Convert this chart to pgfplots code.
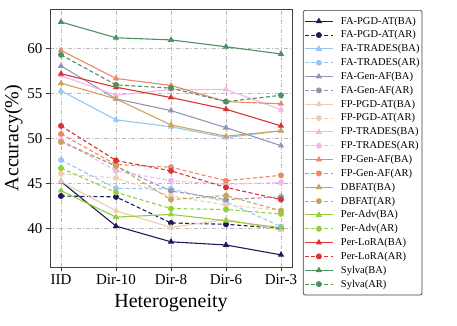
\documentclass[border=0pt]{standalone}
\usepackage{fontspec}
\setmainfont{Liberation Serif}
\usepackage{pgfplots}
\pgfplotsset{compat=1.18}
\definecolor{cnavy}{RGB}{28,28,92}
\definecolor{clblue}{RGB}{150,198,245}
\definecolor{cgrey}{RGB}{150,150,178}
\definecolor{cpeach}{RGB}{236,206,178}
\definecolor{cpink}{RGB}{245,182,232}
\definecolor{csalmon}{RGB}{238,135,105}
\definecolor{cgold}{RGB}{200,165,92}
\definecolor{cygreen}{RGB}{145,208,62}
\definecolor{cred}{RGB}{215,52,52}
\definecolor{cgreen}{RGB}{76,145,96}
\begin{document}
\begin{tikzpicture}
\begin{axis}[
  scale only axis, width=242pt, height=258pt,
  xmin=-0.2, xmax=4.2, ymin=35.7, ymax=64.4,
  xtick={0,1,2,3,4}, xticklabels={IID,Dir-10,Dir-8,Dir-6,Dir-3},
  ytick={40,45,50,55,60},
  tick align=outside, tick pos=left,
  major tick length=4pt,
  tick style={black!80, line width=0.8pt},
  axis line style={black!75, line width=0.9pt},
  grid=major,
  major grid style={gray!55, dash pattern=on 4pt off 2pt on 1pt off 2pt, line width=0.6pt},
  /pgf/number format/assume math mode=true,
  ticklabel style={font=\fontsize{15}{17}\selectfont},
  xlabel={Heterogeneity}, ylabel={Accuracy(\%)},
  label style={font=\fontsize{20}{22}\selectfont},
  xlabel style={yshift=-3pt},
  ylabel style={yshift=-2pt},
  every axis plot/.append style={line width=1.1pt},
  legend cell align=left,
  legend style={at={(1,1)}, anchor=north west, xshift=11pt, yshift=-1pt,
    font=\fontsize{10.5}{12}\selectfont, draw=black!75, line width=0.7pt,
    rounded corners=2pt, inner xsep=1pt, inner ysep=5pt, row sep=2.05pt,
    nodes={inner sep=1.5pt},
    /tikz/every odd column/.append style={column sep=6pt}},
  legend image code/.code={\draw[mark repeat=2,mark phase=2,#1] plot coordinates {(0pt,0pt) (14pt,0pt) (28pt,0pt)};},
  sol/.style={solid, mark=triangle*, mark size=2.6pt, mark options={solid}},
  das/.style={dash pattern=on 4pt off 2.5pt, mark=*, mark size=2.4pt, mark options={solid}},
]
\addplot[color=cnavy, sol] coordinates {(0,45.2) (1,40.25) (2,38.5) (3,38.15) (4,37.05)};
\addlegendentry{FA-PGD-AT(BA)}
\addplot[color=cnavy, das] coordinates {(0,43.6) (1,43.5) (2,40.6) (3,40.45) (4,40.0)};
\addlegendentry{FA-PGD-AT(AR)}
\addplot[color=clblue, sol] coordinates {(0,55.3) (1,52.07) (2,51.3) (3,50.1) (4,50.85)};
\addlegendentry{FA-TRADES(BA)}
\addplot[color=clblue, das] coordinates {(0,47.6) (1,44.45) (2,44.4) (3,42.95) (4,40.2)};
\addlegendentry{FA-TRADES(AR)}
\addplot[color=cgrey, sol] coordinates {(0,58.07) (1,54.4) (2,53.1) (3,51.2) (4,49.2)};
\addlegendentry{FA-Gen-AF(BA)}
\addplot[color=cgrey, das] coordinates {(0,49.7) (1,46.9) (2,44.15) (3,43.2) (4,43.5)};
\addlegendentry{FA-Gen-AF(AR)}
\addplot[color=cpeach, sol] coordinates {(0,45.2) (1,41.95) (2,40.1) (3,41.0) (4,39.8)};
\addlegendentry{FP-PGD-AT(BA)}
\addplot[color=cpeach, das] coordinates {(0,46.07) (1,45.6) (2,43.6) (3,42.6) (4,42.0)};
\addlegendentry{FP-PGD-AT(AR)}
\addplot[color=cpink, sol] coordinates {(0,57.0) (1,54.8) (2,55.45) (3,55.45) (4,53.2)};
\addlegendentry{FP-TRADES(BA)}
\addplot[color=cpink, das] coordinates {(0,49.8) (1,46.4) (2,45.3) (3,44.9) (4,45.1)};
\addlegendentry{FP-TRADES(AR)}
\addplot[color=csalmon, sol] coordinates {(0,59.8) (1,56.67) (2,55.9) (3,54.1) (4,53.85)};
\addlegendentry{FP-Gen-AF(BA)}
\addplot[color=csalmon, das] coordinates {(0,50.5) (1,47.1) (2,46.8) (3,45.3) (4,45.9)};
\addlegendentry{FP-Gen-AF(AR)}
\addplot[color=cgold, sol] coordinates {(0,56.15) (1,54.4) (2,51.5) (3,50.25) (4,50.85)};
\addlegendentry{DBFAT(BA)}
\addplot[color=cgold, das] coordinates {(0,49.6) (1,46.95) (2,43.2) (3,43.65) (4,41.95)};
\addlegendentry{DBFAT(AR)}
\addplot[color=cygreen, sol] coordinates {(0,44.2) (1,41.25) (2,41.55) (3,40.85) (4,40.07)};
\addlegendentry{Per-Adv(BA)}
\addplot[color=cygreen, das] coordinates {(0,46.7) (1,44.0) (2,42.2) (3,42.1) (4,41.6)};
\addlegendentry{Per-Adv(AR)}
\addplot[color=cred, sol] coordinates {(0,57.2) (1,55.7) (2,54.55) (3,53.25) (4,51.4)};
\addlegendentry{Per-LoRA(BA)}
\addplot[color=cred, das] coordinates {(0,51.4) (1,47.55) (2,46.4) (3,44.55) (4,43.2)};
\addlegendentry{Per-LoRA(AR)}
\addplot[color=cgreen, sol] coordinates {(0,62.96) (1,61.2) (2,60.96) (3,60.2) (4,59.4)};
\addlegendentry{Sylva(BA)}
\addplot[color=cgreen, das] coordinates {(0,59.3) (1,55.96) (2,55.6) (3,54.1) (4,54.8)};
\addlegendentry{Sylva(AR)}
\end{axis}
\pgfresetboundingbox
\path ([shift={(-50pt,-58pt)}]current axis.south west) rectangle ([shift={(165pt,9pt)}]current axis.north east);
\end{tikzpicture}
\end{document}
